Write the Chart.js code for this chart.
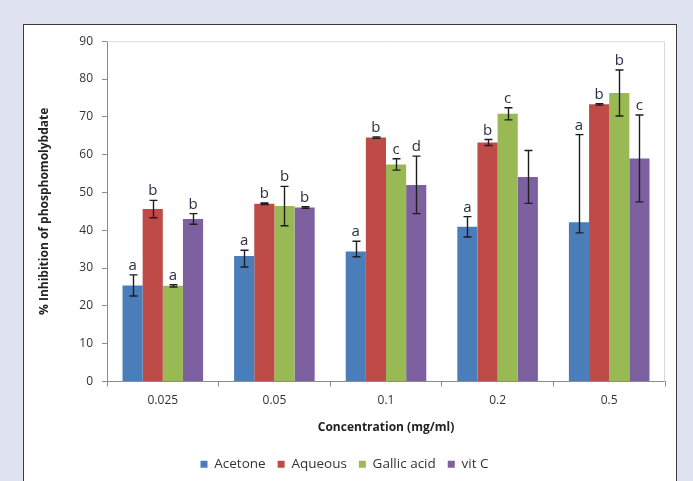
<!DOCTYPE html>
<html>
<head>
<meta charset="utf-8">
<script src="https://cdn.jsdelivr.net/npm/chart.js@4.4.0/dist/chart.umd.min.js"></script>
<style>
  html, body { margin: 0; padding: 0; background: #dfe3f0; overflow: hidden; }
  #box { position: absolute; left: 23px; top: 24px; width: 652px; height: 470px;
         border: 1px solid #3c3c3c; background: #fff; }
  #wrap { position: absolute; left: 0; top: 0; width: 652px; height: 456px; }
</style>
</head>
<body>
<div id="box"><div id="wrap"><canvas id="myChart"></canvas></div></div>
<script>
var categories = ["0.025", "0.05", "0.1", "0.2", "0.5"];

var acetone = [25.4, 33.2, 34.4, 40.9, 42.1];
var acetoneUp = [2.8, 1.5, 2.7, 2.7, 23.2];
var acetoneDown = [2.8, 2.9, 1.4, 2.7, 2.8];
var acetoneLetters = ["a", "a", "a", "a", "a"];

var aqueous = [45.6, 47.0, 64.5, 63.2, 73.3];
var aqueousErr = [2.3, 0.2, 0.2, 0.8, 0.2];
var aqueousLetters = ["b", "b", "b", "b", "b"];

var gallic = [25.3, 46.4, 57.4, 70.8, 76.3];
var gallicErr = [0.3, 5.2, 1.5, 1.6, 6.1];
var gallicLetters = ["a", "b", "c", "c", "b"];

var vitC = [43.0, 46.0, 52.0, 54.1, 59.0];
var vitCErr = [1.4, 0.2, 7.6, 7.0, 11.5];
var vitCLetters = ["b", "b", "d", "", "c"];

var yTicks = [0, 10, 20, 30, 40, 50, 60, 70, 80, 90];

var FONT = "'Open Sans', 'DejaVu Sans', sans-serif";

// light grey frame around the plot area
var plotFrame = {
    id: 'plotFrame',
    beforeDatasetsDraw: function (chart) {
        var a = chart.chartArea, c = chart.ctx;
        c.save();
        c.strokeStyle = '#dadada';
        c.lineWidth = 1;
        c.beginPath();
        c.moveTo(a.left, a.top + 0.5);
        c.lineTo(a.right - 0.5, a.top + 0.5);
        c.lineTo(a.right - 0.5, a.bottom);
        c.stroke();
        c.restore();
    }
};

// error bars + letters above each bar
var errorBars = {
    id: 'errorBars',
    afterDatasetsDraw: function (chart) {
        var c = chart.ctx, y = chart.scales.y;
        chart.data.datasets.forEach(function (ds, i) {
            var meta = chart.getDatasetMeta(i);
            meta.data.forEach(function (bar, j) {
                var v = ds.data[j];
                var top = y.getPixelForValue(v + ds.errUp[j]);
                var bot = y.getPixelForValue(v - ds.errDown[j]);
                var x = Math.round(bar.x) + 0.5;
                c.save();
                c.strokeStyle = '#1e1e1e';
                c.lineWidth = 1.4;
                c.beginPath();
                c.moveTo(x, top); c.lineTo(x, bot);
                c.moveTo(x - 4, top); c.lineTo(x + 4, top);
                c.moveTo(x - 4, bot); c.lineTo(x + 4, bot);
                c.stroke();
                if (ds.letters[j]) {
                    c.fillStyle = '#2a2f45';
                    c.font = '15px ' + FONT;
                    c.textAlign = 'center';
                    c.textBaseline = 'alphabetic';
                    c.fillText(ds.letters[j], bar.x, top - 5);
                }
                c.restore();
            });
        });
    }
};

var ctx = document.getElementById('myChart').getContext('2d');
var myChart = new Chart(ctx, {
    type: 'bar',
    data: {
        labels: categories,
        datasets: [{
            label: "Acetone", data: acetone, backgroundColor: "#4a7ebb",
            errUp: acetoneUp, errDown: acetoneDown, letters: acetoneLetters
        }, {
            label: "Aqueous", data: aqueous, backgroundColor: "#be4b48",
            errUp: aqueousErr, errDown: aqueousErr, letters: aqueousLetters
        }, {
            label: "Gallic acid", data: gallic, backgroundColor: "#98b954",
            errUp: gallicErr, errDown: gallicErr, letters: gallicLetters
        }, {
            label: "vit C", data: vitC, backgroundColor: "#7d60a0",
            errUp: vitCErr, errDown: vitCErr, letters: vitCLetters
        }]
    },
    options: {
        responsive: true,
        maintainAspectRatio: false,
        animation: false,
        layout: { padding: { top: 14, right: 11, left: 0, bottom: 0 } },
        datasets: { bar: { barPercentage: 1, categoryPercentage: 0.722 } },
        plugins: {
            tooltip: { enabled: false },
            legend: {
                position: 'bottom',
                labels: {
                    boxWidth: 7, boxHeight: 7, padding: 12,
                    color: '#333', font: { family: FONT, size: 13.5 }
                }
            }
        },
        scales: {
            x: {
                afterFit: function (s) { s.height = 64; },
                grid: { display: true, drawOnChartArea: false, offset: true, tickLength: 5, color: '#8c8c8c' },
                border: { color: '#8c8c8c' },
                ticks: { color: '#333', padding: 7, font: { family: FONT, size: 12 } },
                title: {
                    display: true, text: 'Concentration (mg/ml)', color: '#222',
                    padding: { top: 0, bottom: 11 },
                    font: { family: FONT, size: 12, weight: 'bold' }
                }
            },
            y: {
                min: 0, max: 90,
                afterFit: function (s) { s.width = 83; },
                afterBuildTicks: function (s) { s.ticks = yTicks.map(function (v) { return { value: v }; }); },
                grid: { display: true, drawOnChartArea: false, tickLength: 5, color: '#8c8c8c' },
                border: { color: '#8c8c8c' },
                ticks: { color: '#333', padding: 9, font: { family: FONT, size: 12 } },
                title: {
                    display: true, text: '% Inhibition of phosphomolybdate', color: '#222',
                    padding: { top: 13, bottom: 0 },
                    font: { family: FONT, size: 12, weight: 'bold' }
                }
            }
        }
    },
    plugins: [plotFrame, errorBars]
});
</script>
</body>
</html>
